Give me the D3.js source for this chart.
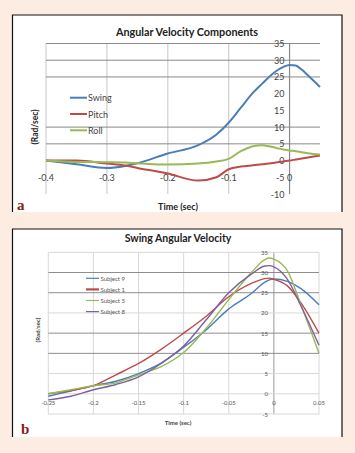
<!DOCTYPE html>
<html><head><meta charset="utf-8">
<script src="https://cdn.jsdelivr.net/npm/d3@7"></script>
<style>body{margin:0;background:#fdece2;}svg{display:block;}</style>
</head><body>
<svg id="c" width="355" height="453"></svg>
<script>
// ---------- Panel a data ----------
const aTitle = "Angular Velocity Components";
const aTicksX = [-0.4, -0.3, -0.2, -0.1, 0];
const aTicksY = [35, 30, 25, 20, 15, 10, 5, 0, -5, -10];
const aGridY = [35, 30, 25, 10, 5];
const aSeriesNames = ["Swing", "Pitch", "Roll"];
const aColors = ["#4a7ebb", "#be4b48", "#98b954"];
const aTime = [-0.4, -0.35, -0.3, -0.27, -0.25, -0.2, -0.15, -0.12, -0.1, -0.08, -0.06, -0.045, -0.03, -0.02, -0.01, 0, 0.01, 0.02, 0.03, 0.05];
const swing = [0, -1.1, -2.2, -1.6, -0.8, 2.1, 4.6, 7.8, 11.3, 15.8, 20.3, 23.0, 25.6, 27.0, 28.0, 28.6, 28.4, 27.2, 25.5, 22];
const pitch = [0, 0, -0.9, -1.5, -2.2, -3.9, -6.0, -5.0, -2.6, -1.8, -1.4, -1.1, -0.8, -0.5, -0.25, 0, 0.3, 0.6, 0.9, 1.5];
const roll  = [0, -0.4, -0.5, -0.6, -0.8, -1.2, -0.9, -0.3, 0.5, 2.8, 4.3, 4.6, 4.1, 3.7, 3.3, 3.0, 2.8, 2.5, 2.2, 1.8];

// ---------- Panel b data ----------
const bTitle = "Swing Angular Velocity";
const bTicksX = [-0.25, -0.2, -0.15, -0.1, -0.05, 0, 0.05];
const bTickLabelsX = ["-0.25", "-0.2", "-0.15", "-0.1", "-0.05", "0", "0.05"];
const bTicksY = [35, 30, 25, 20, 15, 10, 5, 0, -5];
const bDarkGridY = [30, 25, 15, 10];
const bSeriesNames = ["Subject 9", "Subject 1", "Subject 5", "Subject 8"];
const bColors = ["#4a7ebb", "#be4b48", "#98b954", "#7d60a0"];
const bTime = [-0.25, -0.225, -0.2, -0.175, -0.15, -0.125, -0.1, -0.075, -0.05, -0.025, -0.01, -0.005, 0, 0.015, 0.03, 0.05];
const subj9 = [-0.6, 0.7, 2.0, 3.1, 5.0, 7.6, 11.5, 15.8, 21.0, 24.8, 27.6, 28.2, 28.4, 27.8, 26.0, 22];
const subj1 = [0, 0.8, 2.0, 4.7, 7.5, 11.0, 15.0, 19.2, 24.0, 27.3, 28.5, 28.6, 28.3, 26.7, 22.5, 15];
const subj5 = [0, 1.0, 2.0, 2.7, 4.7, 6.7, 10.2, 16.2, 23.3, 30.0, 33.2, 33.6, 33.3, 30.4, 22.0, 10];
const subj8 = [-1.5, -0.6, 1.0, 2.3, 4.2, 7.5, 11.8, 18.3, 25.0, 29.6, 31.6, 31.7, 31.4, 28.3, 21.7, 12];

const svg = d3.select("#c");
const FONT = "Lato, 'Open Sans', sans-serif";

// Panel frames
function frame(x0, y0, x1, y1) {
  svg.append("rect").attr("x", x0).attr("y", y0).attr("width", x1 - x0).attr("height", y1 - y0).attr("fill", "#fff");
  svg.append("path").attr("d", `M${x0},${y1}V${y0}H${x1}V${y1}`).attr("fill", "none").attr("stroke", "#111").attr("stroke-width", 1.2);
}
frame(12.5, 15, 342, 212);
frame(12.5, 229, 342, 437);

// ---------- Panel a ----------
{
  const x = d3.scaleLinear().domain([-0.4, 0.05]).range([46, 320]);
  const y = d3.scaleLinear().domain([-10, 35]).range([194, 43.5]);
  const g = svg.append("g");
  g.selectAll(".vg").data(aTicksX).join("line")
    .attr("x1", d => x(d)).attr("x2", d => x(d)).attr("y1", y(35)).attr("y2", y(-10))
    .attr("stroke", d => d === 0 ? "#8a8a8a" : "#d4d4d4").attr("stroke-width", d => d === 0 ? 1.2 : 1.3);
  g.selectAll(".hg").data(aGridY).join("line")
    .attr("x1", x(-0.4)).attr("x2", x(0.05)).attr("y1", d => y(d)).attr("y2", d => y(d))
    .attr("stroke", "#8a8a8a").attr("stroke-width", 1);
  g.selectAll(".yt").data(aTicksY).join("text")
    .attr("x", x(0) - 5).attr("y", d => y(d) + 3.5).attr("text-anchor", "end")
    .attr("font-family", FONT).attr("font-size", 9).attr("fill", "#444").text(d => d);
  g.selectAll(".xt").data(aTicksX).join("text")
    .attr("x", d => x(d)).attr("y", y(-5) + 3.5).attr("text-anchor", "middle")
    .attr("font-family", FONT).attr("font-size", 9).attr("fill", "#444").text(d => d);
  const series = [swing, pitch, roll];
  const line = d3.line().x((d, i) => x(aTime[i])).y(d => y(d)).curve(d3.curveMonotoneX);
  series.forEach((s, k) => {
    g.append("path").attr("d", line(s)).attr("fill", "none").attr("stroke", aColors[k]).attr("stroke-width", 2);
  });
  aSeriesNames.forEach((n, k) => {
    const ly = 97.7 + k * 16.3;
    g.append("line").attr("x1", 70).attr("x2", 87).attr("y1", ly).attr("y2", ly).attr("stroke", aColors[k]).attr("stroke-width", 2);
    g.append("text").attr("x", 88).attr("y", ly + 3.5).attr("font-family", FONT).attr("font-size", 9).attr("fill", "#444").text(n);
  });
  g.append("text").attr("x", 187).attr("y", 36).attr("text-anchor", "middle").attr("font-family", FONT)
    .attr("font-weight", "bold").attr("font-size", 10.8).attr("fill", "#222").text(aTitle);
  g.append("text").attr("transform", "translate(38,127) rotate(-90)").attr("text-anchor", "middle")
    .attr("font-family", FONT).attr("font-weight", "bold").attr("font-size", 8.5).attr("fill", "#222").text("(Rad/sec)");
  g.append("text").attr("x", 178).attr("y", 210).attr("text-anchor", "middle")
    .attr("font-family", FONT).attr("font-weight", "bold").attr("font-size", 9).attr("fill", "#222").text("Time (sec)");
  g.append("text").attr("x", 17).attr("y", 210).attr("font-family", "'Liberation Serif', serif")
    .attr("font-weight", "bold").attr("font-size", 15).attr("fill", "#8b1a1a").text("a");
}

// ---------- Panel b ----------
{
  const x = d3.scaleLinear().domain([-0.25, 0.05]).range([48.3, 319]);
  const y = d3.scaleLinear().domain([-5, 35]).range([414, 252.3]);
  const g = svg.append("g");
  g.selectAll(".vg").data(bTicksX).join("line")
    .attr("x1", d => x(d)).attr("x2", d => x(d)).attr("y1", y(35)).attr("y2", y(-5))
    .attr("stroke", d => d === 0 ? "#9a9a9a" : "#d8d8d8").attr("stroke-width", 1);
  g.selectAll(".hg").data(bTicksY).join("line")
    .attr("x1", x(-0.25)).attr("x2", x(0.05)).attr("y1", d => y(d)).attr("y2", d => y(d))
    .attr("stroke", d => bDarkGridY.includes(d) ? "#8e8e8e" : "#d8d8d8").attr("stroke-width", 1);
  g.selectAll(".yt").data(bTicksY).join("text")
    .attr("x", x(0) - 6).attr("y", d => y(d) + 2.5).attr("text-anchor", "end")
    .attr("font-family", FONT).attr("font-size", 6).attr("fill", "#555").text(d => d);
  g.selectAll(".xt").data(bTicksX).join("text")
    .attr("x", d => x(d)).attr("y", 405).attr("text-anchor", "middle")
    .attr("font-family", FONT).attr("font-size", 6).attr("fill", "#555").text((d, i) => bTickLabelsX[i]);
  const series = [subj9, subj1, subj5, subj8];
  const line = d3.line().x((d, i) => x(bTime[i])).y(d => y(d)).curve(d3.curveMonotoneX);
  series.forEach((s, k) => {
    g.append("path").attr("d", line(s)).attr("fill", "none").attr("stroke", bColors[k]).attr("stroke-width", 1.4);
  });
  bSeriesNames.forEach((n, k) => {
    const ly = 278.3 + k * 11.1;
    g.append("line").attr("x1", 86).attr("x2", 99).attr("y1", ly).attr("y2", ly).attr("stroke", bColors[k]).attr("stroke-width", k === 1 ? 2.2 : 1.2);
    g.append("text").attr("x", 100.5).attr("y", ly + 2.2).attr("font-family", FONT).attr("font-size", 6).attr("fill", "#555").text(n);
  });
  g.append("text").attr("x", 178).attr("y", 242).attr("text-anchor", "middle").attr("font-family", FONT)
    .attr("font-weight", "bold").attr("font-size", 10.5).attr("fill", "#222").text(bTitle);
  g.append("text").attr("transform", "translate(40,330) rotate(-90)").attr("text-anchor", "middle")
    .attr("font-family", FONT).attr("font-weight", "bold").attr("font-size", 6).attr("fill", "#444").text("(Rad/sec)");
  g.append("text").attr("x", 178).attr("y", 424.5).attr("text-anchor", "middle")
    .attr("font-family", FONT).attr("font-weight", "bold").attr("font-size", 6).attr("fill", "#444").text("Time (sec)");
  g.append("text").attr("x", 21).attr("y", 434).attr("font-family", "'Liberation Serif', serif")
    .attr("font-weight", "bold").attr("font-size", 15).attr("fill", "#8b1a1a").text("b");
}
</script>
</body></html>
